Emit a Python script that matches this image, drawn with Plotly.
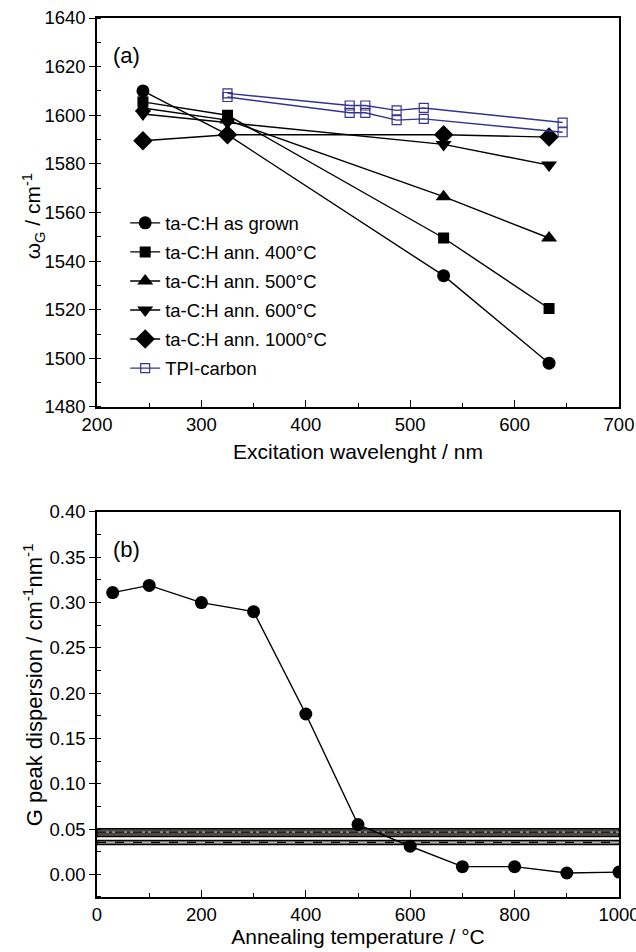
import plotly.graph_objects as go

# ---- panel (a) data ----
wavelength = [244, 325, 532, 633]
as_grown = [1610, 1592, 1534, 1498]
ann_400 = [1605.5, 1600, 1549.5, 1520.5]
ann_500 = [1603, 1598, 1566.5, 1549.5]
ann_600 = [1600.5, 1597, 1588, 1579.5]
ann_1000 = [1589.5, 1592, 1592, 1591]
tpi_wavelength = [325, 442, 457, 487, 513, 646]
tpi_upper = [1609, 1604, 1604, 1602, 1603, 1597]
tpi_lower = [1607.5, 1601, 1601, 1598, 1598.5, 1593]

# ---- panel (b) data ----
anneal_temp = [30, 100, 200, 300, 400, 500, 600, 700, 800, 900, 1000]
g_dispersion = [0.311, 0.319, 0.300, 0.290, 0.177, 0.055, 0.031, 0.0085, 0.0085, 0.0015, 0.0025]
band_low = [0.0416, 0.0328]
band_high = [0.0504, 0.0375]
band_mid = [0.0467, 0.0353]

FONT = "Liberation Sans, Arial, sans-serif"
NAVY = "#34348f"
TICK = 18.5
TITLE = 21

fig = go.Figure()

series = [
    ("ta-C:H as grown", as_grown, "circle", 13),
    ("ta-C:H ann. 400°C", ann_400, "square", 11),
    ("ta-C:H ann. 500°C", ann_500, "triangle-up", 14),
    ("ta-C:H ann. 600°C", ann_600, "triangle-down", 14),
    ("ta-C:H ann. 1000°C", ann_1000, "diamond", 15),
]
for i, (name, vals, sym, sz) in enumerate(series):
    fig.add_trace(go.Scatter(
        x=wavelength, y=vals, name=name, mode="lines+markers",
        line=dict(color="black", width=1.4),
        marker=dict(symbol=sym, size=sz, color="black"),
        legendgroup=f"g{i}", xaxis="x", yaxis="y"))

fig.add_trace(go.Scatter(
    x=tpi_wavelength, y=tpi_upper, name="TPI-carbon", mode="lines+markers",
    line=dict(color=NAVY, width=1.4),
    marker=dict(symbol="square-open", size=9, color=NAVY, line=dict(width=1.2)),
    legendgroup="g5", xaxis="x", yaxis="y"))
fig.add_trace(go.Scatter(
    x=tpi_wavelength, y=tpi_lower, name="TPI-carbon", mode="lines+markers",
    line=dict(color=NAVY, width=1.4), showlegend=False,
    marker=dict(symbol="square-open", size=9, color=NAVY, line=dict(width=1.2)),
    legendgroup="g6", xaxis="x", yaxis="y"))

fig.add_trace(go.Scatter(
    x=anneal_temp, y=g_dispersion, mode="lines+markers", showlegend=False,
    line=dict(color="black", width=1.4),
    marker=dict(symbol="circle", size=13, color="black"),
    xaxis="x2", yaxis="y2"))

# grey reference bands
band_fill = ["#4d4843", "#6a6662"]
for lo, hi, mid, fc, dash in zip(band_low, band_high, band_mid, band_fill, ["dashdot", "dash"]):
    fig.add_shape(type="rect", xref="x2 domain", yref="y2", x0=0, x1=1, y0=lo, y1=hi,
                  fillcolor=fc, line=dict(color="black", width=1.2), layer="below")
    fig.add_shape(type="line", xref="x2 domain", yref="y2", x0=0, x1=1, y0=mid, y1=mid,
                  line=dict(color="#bdbdbd", width=1), layer="below")
    fig.add_shape(type="line", xref="x2 domain", yref="y2", x0=0, x1=1, y0=mid, y1=mid,
                  line=dict(color="black", width=1.2, dash=dash), layer="below")

axis_common = dict(showline=True, linecolor="black", linewidth=1.5, showgrid=False,
                   zeroline=False, tickcolor="black", tickwidth=1.3, automargin=False,
                   tickfont=dict(size=TICK, color="black", family=FONT))

fig.update_layout(
    width=636, height=952,
    margin=dict(l=97, r=17, t=18, b=55),
    paper_bgcolor="white", plot_bgcolor="white",
    font=dict(family=FONT, size=TICK, color="black"),
    showlegend=True,
    legend=dict(x=0.054, y=0.788, xanchor="left", yanchor="top",
                font=dict(size=18.5, family=FONT, color="black"),
                bgcolor="rgba(0,0,0,0)", traceorder="grouped", tracegroupgap=2),
    xaxis=dict(domain=[0, 1], anchor="y", range=[200, 700], dtick=100, mirror=True,
               ticks="inside", ticklen=7, ticklabeloverflow="allow",
               minor=dict(ticks="inside", ticklen=4, dtick=50, tickcolor="black", tickwidth=1.2),
               title=dict(text="Excitation wavelenght / nm", font=dict(size=TITLE), standoff=10),
               **axis_common),
    yaxis=dict(domain=[0.5575, 1], anchor="x", range=[1480, 1640], dtick=20, mirror=True,
               ticks="outside", ticklen=6,
               minor=dict(ticks="inside", ticklen=4, dtick=10, tickcolor="black", tickwidth=1.2),
               **axis_common),
    yaxis3=dict(overlaying="y", anchor="x", side="right", range=[1480, 1640], dtick=20,
                ticks="inside", ticklen=7, showticklabels=False,
                minor=dict(ticks="inside", ticklen=4, dtick=10, tickcolor="black", tickwidth=1.2),
                **axis_common),
    xaxis2=dict(domain=[0, 1], anchor="y2", range=[0, 1000], dtick=200, mirror=True,
                ticks="inside", ticklen=7, ticklabeloverflow="allow",
                minor=dict(ticks="inside", ticklen=4, dtick=100, tickcolor="black", tickwidth=1.2),
                title=dict(text="Annealing temperature / °C", font=dict(size=TITLE), standoff=4),
                **axis_common),
    yaxis2=dict(domain=[0, 0.438], anchor="x2", range=[-0.025, 0.40], dtick=0.05,
                tickformat=".2f", mirror=True, ticks="outside", ticklen=6,
                minor=dict(ticks="inside", ticklen=4, dtick=0.025, tickcolor="black", tickwidth=1.2),
                **axis_common),
    yaxis4=dict(overlaying="y2", anchor="x2", side="right", range=[-0.025, 0.40], dtick=0.05,
                ticks="inside", ticklen=7, showticklabels=False,
                minor=dict(ticks="inside", ticklen=4, dtick=0.025, tickcolor="black", tickwidth=1.2),
                **axis_common),
    annotations=[
        dict(text="(a)", xref="x domain", yref="y domain", x=0.027, y=0.903,
             xanchor="left", yanchor="middle", showarrow=False, font=dict(size=22)),
        dict(text="(b)", xref="x2 domain", yref="y2 domain", x=0.027, y=0.903,
             xanchor="left", yanchor="middle", showarrow=False, font=dict(size=22)),
        dict(text="ω<sub>G</sub> / cm<sup>-1</sup>", xref="paper", yref="y domain",
             x=-0.1226, y=0.49, xanchor="center", yanchor="middle", textangle=-90,
             showarrow=False, font=dict(size=TITLE)),
        dict(text="G peak dispersion / cm<sup>-1</sup>nm<sup>-1</sup>", xref="paper",
             yref="y2 domain", x=-0.1226, y=0.55, xanchor="center", yanchor="middle",
             textangle=-90, showarrow=False, font=dict(size=22)),
    ],
)

fig.write_html("out.html")
